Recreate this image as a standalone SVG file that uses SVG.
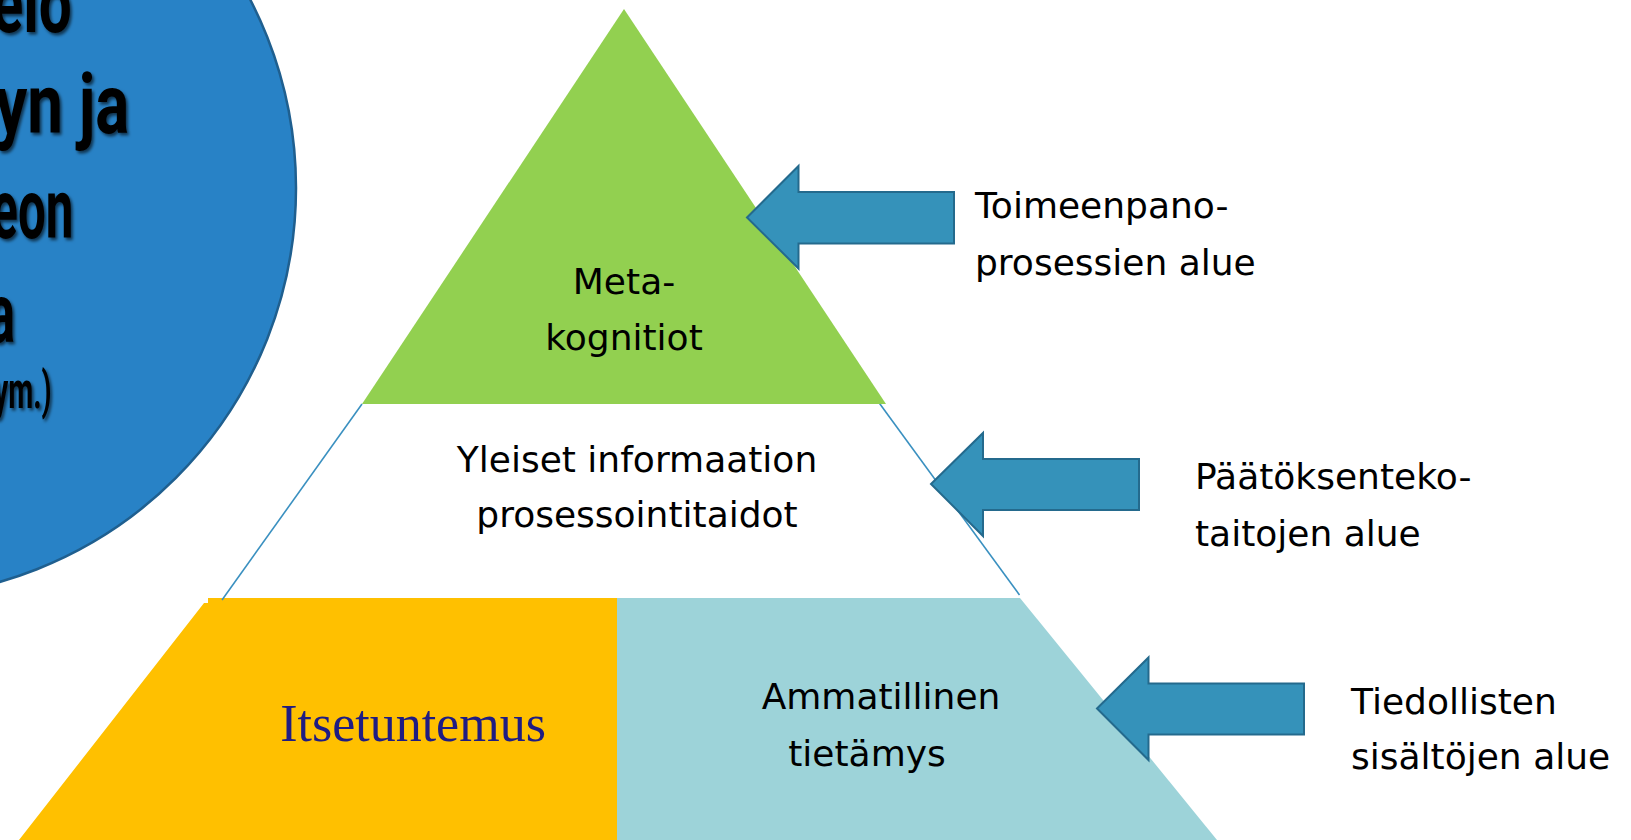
<svg xmlns="http://www.w3.org/2000/svg" width="1631" height="840" viewBox="0 0 1631 840">
  <defs>
    <style>
      .lbl { font-family: "DejaVu Sans", "Noto Sans", sans-serif; font-size: 36px; fill: #000000; }
      .mid { text-anchor: middle; }
      .big { font-family: Roboto, "Liberation Sans", sans-serif; font-weight: bold; font-size: 84px; fill: #000000; text-anchor: end; filter: url(#shadow); }
      .small { font-size: 52px; }
      .arrow { fill: #3592ba; stroke: #246a8d; stroke-width: 2; stroke-linejoin: miter; }
      .edge { stroke: #3a90c0; stroke-width: 1.6; fill: none; }
    </style>
    <filter id="shadow" x="-20%" y="-20%" width="140%" height="140%">
      <feDropShadow dx="2" dy="2.5" stdDeviation="1.5" flood-color="#000000" flood-opacity="0.6"/>
    </filter>
  </defs>
  <rect x="0" y="0" width="1631" height="840" fill="#ffffff"/>

  <g id="circle">
    <circle cx="-114" cy="188" r="410" fill="#2882c6" stroke="#1f5f8f" stroke-width="2.5"/>
    <text class="big" x="71.7" y="31.7" textLength="80" lengthAdjust="spacingAndGlyphs">elo</text>
    <text class="big" x="129.3" y="133.3" textLength="134" lengthAdjust="spacingAndGlyphs">yn ja</text>
    <text class="big" x="73.3" y="238.3" textLength="82" lengthAdjust="spacingAndGlyphs">eon</text>
    <text class="big" x="15" y="341.7" textLength="27" lengthAdjust="spacingAndGlyphs">a</text>
    <text class="big small" x="51.7" y="408" textLength="58" lengthAdjust="spacingAndGlyphs">ym.)</text>
  </g>

  <g id="layer-bottom-left">
    <polygon points="208,598 617,598 617,840 19,840 204,603 208,603" fill="#ffc000"/>
    <text x="413" y="740.7" text-anchor="middle" font-family="'Liberation Serif', 'Times New Roman', serif" font-size="52" fill="#1f1c82">Itsetuntemus</text>
  </g>

  <g id="layer-bottom-right">
    <polygon points="617,598 1020,598 1217,840 617,840" fill="#9dd3d9"/>
    <text class="lbl mid" x="881" y="709">Ammatillinen</text>
    <text class="lbl mid" x="867" y="766">tietämys</text>
  </g>

  <g id="layer-middle">
    <line class="edge" x1="362" y1="404" x2="222" y2="600"/>
    <line class="edge" x1="878.5" y1="402" x2="1019.5" y2="595"/>
    <text class="lbl mid" x="637" y="472">Yleiset informaation</text>
    <text class="lbl mid" x="637" y="527">prosessointitaidot</text>
  </g>

  <g id="layer-top">
    <polygon points="624,9 886,404 362,404" fill="#92d050"/>
    <text class="lbl mid" x="624" y="294">Meta-</text>
    <text class="lbl mid" x="624" y="350">kognitiot</text>
  </g>

  <g id="connectors">
    <polygon class="arrow" points="747,217.5 798.5,166 798.5,192 954,192 954,243.5 798.5,243.5 798.5,268.5"/>
    <polygon class="arrow" points="931,484 983,433 983,459 1139,459 1139,510 983,510 983,536"/>
    <polygon class="arrow" points="1097,708.5 1148.5,657.5 1148.5,683.5 1304,683.5 1304,734.5 1148.5,734.5 1148.5,760"/>
  </g>

  <g id="label-toimeenpano">
    <text class="lbl" x="975" y="218">Toimeenpano-</text>
    <text class="lbl" x="975" y="275">prosessien alue</text>
  </g>

  <g id="label-paatoksenteko">
    <text class="lbl" x="1195" y="489">Päätöksenteko-</text>
    <text class="lbl" x="1195" y="546">taitojen alue</text>
  </g>

  <g id="label-tiedollisten">
    <text class="lbl" x="1351" y="714">Tiedollisten</text>
    <text class="lbl" x="1351" y="769">sisältöjen alue</text>
  </g>
</svg>
